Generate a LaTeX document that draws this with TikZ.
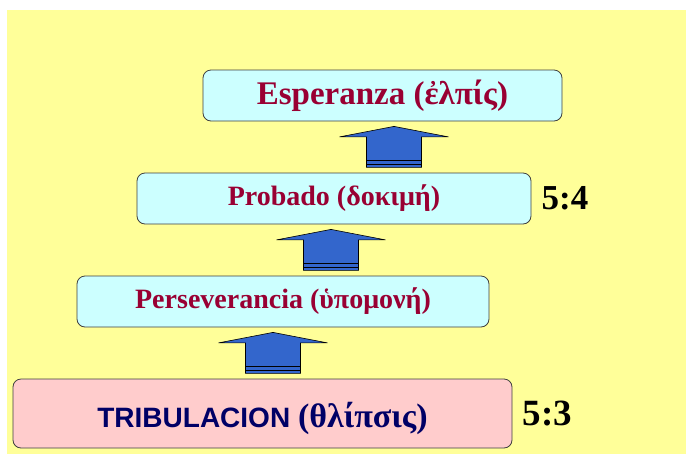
\documentclass[tikz,border=0pt]{standalone}
\usepackage{fontspec}
\setmainfont{Liberation Serif}
\newfontfamily\arialfont{Liberation Sans}
\definecolor{bgyellow}{HTML}{FFFF99}
\definecolor{boxcyan}{HTML}{CCFFFF}
\definecolor{boxpink}{HTML}{FFCCCC}
\definecolor{wordred}{HTML}{990033}
\definecolor{wordnavy}{HTML}{000066}
\definecolor{arrowblue}{HTML}{3366CC}
% block arrow pointing up, #1 = its tip
\newcommand{\steparrow}[1]{%
  \draw[arrowbody] #1 -- ++(54.5,10.5) -- ++(-27,0) -- ++(0,30.5) -- ++(-55,0)
    -- ++(0,-30.5) -- ++(-27,0) -- cycle;
  \draw[line width=1.1pt] #1 ++(-27.5,34.5) -- ++(55,0);
  \draw[line width=1.1pt] #1 ++(-27.5,38) -- ++(55,0);
}
\begin{document}
\begin{tikzpicture}[x=1pt,y=-1pt,
    stepbox/.style={draw=black!75, line width=0.8pt, rounded corners=8pt,
      inner sep=0pt, fill=boxcyan, minimum height=51pt},
    arrowbody/.style={draw=black, line width=0.6pt, fill=arrowblue},
    verse/.style={inner sep=0pt, anchor=west, font=\fontsize{35}{38}\selectfont\bfseries}]
  \useasboundingbox (0,0) rectangle (686,456);
  \fill[bgyellow] (7,10) rectangle (686,454);
  % Steps
  \node[stepbox, minimum width=359pt] (esp) at (382.5,95.5)
    {\fontsize{33}{36}\selectfont\bfseries\color{wordred}Esperanza (ἐλπίς)};
  \node[stepbox, minimum width=394pt] (prob) at (334,198.5)
    {\fontsize{28}{32}\selectfont\bfseries\color{wordred}Probado (δοκιμή)};
  \node[stepbox, minimum width=412pt] (pers) at (283,301.5)
    {\fontsize{28}{32}\selectfont\bfseries\color{wordred}Perseverancia (ὑπομονή)};
  \node[stepbox, fill=boxpink, minimum width=499pt, minimum height=69pt,
    text height=27pt, text depth=0pt] (trib) at (262.5,413.5)
    {\color{wordnavy}{\arialfont\fontsize{28}{32}\selectfont\bfseries TRIBULACION }%
     {\fontsize{34}{38}\selectfont\bfseries(θλίπσις)}};
  % Verses
  \node[verse] (v4) at ([xshift=10pt]prob.east) {5:4};
  \node[verse, font=\fontsize{37}{40}\selectfont\bfseries] (v3) at ([xshift=10pt]trib.east) {5:3};
  % Arrows between steps
  \steparrow{([yshift=-5pt]esp.south -| 394,0)}
  \steparrow{([yshift=-5pt]prob.south -| 331,0)}
  \steparrow{([yshift=-5pt]pers.south -| 273,0)}
\end{tikzpicture}
\end{document}
